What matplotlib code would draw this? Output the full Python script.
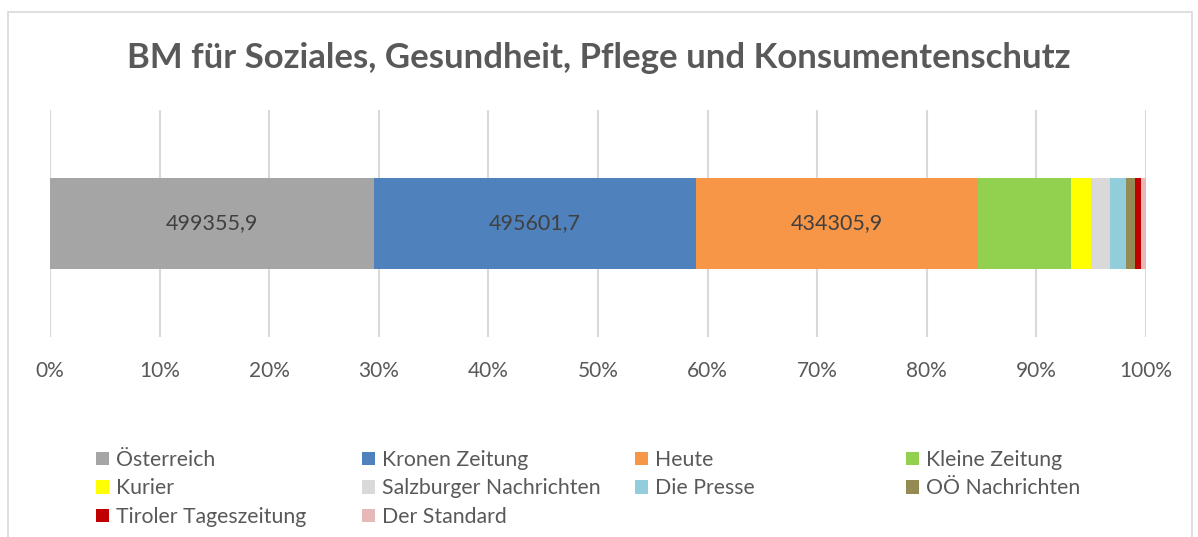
import numpy as np
import matplotlib.pyplot as plt
from matplotlib.patches import Rectangle, Patch

# newspapers and their values (first three read from labels, rest estimated)
papers = ["Österreich", "Kronen Zeitung", "Heute", "Kleine Zeitung", "Kurier",
          "Salzburger Nachrichten", "Die Presse", "OÖ Nachrichten",
          "Tiroler Tageszeitung", "Der Standard"]
values = [499355.9, 495601.7, 434305.9, 143150, 30320,
          29700, 24170, 13850, 9700, 7700]
colors = ["#A5A5A5", "#4F81BD", "#F79646", "#92D050", "#FFFF00",
          "#D9D9D9", "#92CDDC", "#948A54", "#C00000", "#E6B9B8"]
labelled = ["499355,9", "495601,7", "434305,9"]

plt.rcParams['font.family'] = ['Lato', 'DejaVu Sans']
txt = "#595959"

fig = plt.figure(figsize=(11.98, 5.37), dpi=100)
W, H = 1198, 537

# chart area border
fig.patches.append(Rectangle((8 / W, -0.05), (1192 - 8) / W, 1.05 - 12 / H,
                             transform=fig.transFigure, fill=False,
                             edgecolor="#D9D9D9", linewidth=1.2))

ax = fig.add_axes([50 / W, 1 - 337 / H, (1146 - 50) / W, (337 - 110) / H])

total = sum(values)
pct = np.array(values) / total * 100
left = 0
for i, (name, p, c) in enumerate(zip(papers, pct, colors)):
    ax.barh(0, p, left=left, height=0.4, color=c, label=name, zorder=2)
    if i < len(labelled):
        ax.text(left + p / 2, 0, labelled[i], ha="center", va="center",
                fontsize=15.5, color="#404040", zorder=3)
    left += p

ax.set_xlim(0, 100)
ax.set_ylim(-0.5, 0.5)
ax.set_xticks(np.arange(0, 101, 10))
ax.set_xticklabels([f"{t}%" for t in range(0, 101, 10)], fontsize=15, color=txt)
ax.set_yticks([])
ax.tick_params(axis="x", length=0, pad=17)
ax.grid(axis="x", color="#D9D9D9", linewidth=1.5, zorder=0)
for s in ax.spines.values():
    s.set_visible(False)

fig.text(0.5, 1 - 58 / H, "BM für Soziales, Gesundheit, Pflege und Konsumentenschutz",
         ha="center", va="center", fontsize=25, fontweight="bold", color=txt)

# legend: four columns, row-major order
col_x = [96, 362, 635, 906]
for c in range(4):
    idx = list(range(c, len(papers), 4))
    handles = [Patch(facecolor=colors[i]) for i in idx]
    fig.legend(handles, [papers[i] for i in idx], loc="upper left",
               bbox_to_anchor=(col_x[c] / W, 1 - 450 / H), frameon=False,
               fontsize=15.3, labelcolor=txt, handlelength=0.62, handleheight=0.58,
               handletextpad=0.3, labelspacing=0.40, borderpad=0, borderaxespad=0)

fig.savefig("out.png", dpi=100)
